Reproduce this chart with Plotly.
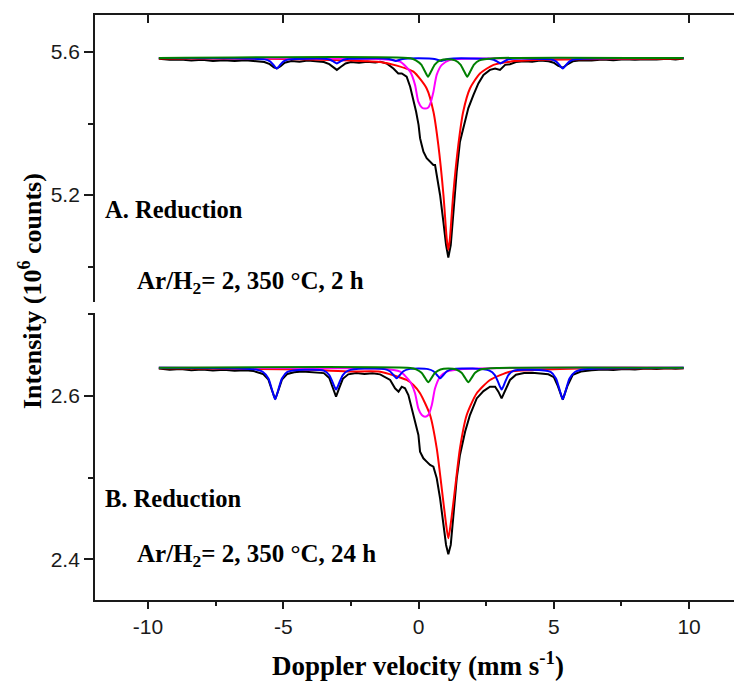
import plotly.graph_objects as go

# ---------------- data ----------------
# Panel A: Reduction Ar/H2 = 2, 350 C, 2 h
a_exp_v = [-9.6, -9.2, -8.8, -8.4, -8.0, -7.6, -7.2, -6.8, -6.4, -6.0, -5.7, -5.5, -5.35, -5.24, -5.1,
           -4.95, -4.7, -4.4, -4.1, -3.8, -3.5, -3.3, -3.15, -3.02, -2.88, -2.7, -2.5, -2.2, -1.9, -1.6,
           -1.42, -1.18, -0.93, -0.75, -0.62, -0.44, -0.31, -0.19, -0.09, 0.0, 0.055, 0.117, 0.18, 0.30,
           0.425, 0.548, 0.61, 0.70, 0.795, 0.918, 1.017, 1.10, 1.19, 1.29, 1.41, 1.53, 1.66, 1.84, 2.03,
           2.21, 2.40, 2.64, 2.83, 3.01, 3.2, 3.38, 3.6, 3.9, 4.2, 4.5, 4.8, 5.0, 5.15, 5.33, 5.5, 5.7,
           6.0, 6.4, 6.8, 7.2, 7.6, 8.0, 8.4, 8.8, 9.2, 9.5, 9.8]
a_exp_i = [5.581, 5.578, 5.579, 5.576, 5.578, 5.575, 5.577, 5.575, 5.577, 5.574, 5.572, 5.566, 5.557, 5.554, 5.560,
           5.570, 5.575, 5.573, 5.576, 5.574, 5.572, 5.566, 5.556, 5.550, 5.558, 5.568, 5.572, 5.570, 5.573, 5.571,
           5.573, 5.568, 5.554, 5.540, 5.540, 5.531, 5.503, 5.466, 5.433, 5.396, 5.359, 5.340, 5.321, 5.303,
           5.293, 5.284, 5.284, 5.247, 5.200, 5.125, 5.060, 5.025, 5.060, 5.153, 5.265, 5.349, 5.387, 5.443, 5.480,
           5.512, 5.536, 5.550, 5.554, 5.550, 5.564, 5.566, 5.572, 5.574, 5.573, 5.576, 5.574, 5.570, 5.562, 5.556, 5.565, 5.574,
           5.577, 5.576, 5.579, 5.577, 5.580, 5.578, 5.580, 5.579, 5.581, 5.579, 5.582]

a_red_v = [-9.6, -6, -4, -2.5, -1.42, -0.8, -0.19, 0.3, 0.55, 0.73, 0.92, 1.04, 1.10, 1.16, 1.28, 1.47,
           1.65, 1.90, 2.27, 2.77, 3.38, 4.5, 6, 9.8]
a_red_i = [5.582, 5.581, 5.579, 5.576, 5.572, 5.562, 5.545, 5.498, 5.433, 5.340, 5.200, 5.079, 5.046, 5.079,
           5.200, 5.340, 5.433, 5.498, 5.540, 5.564, 5.573, 5.578, 5.580, 5.582]

a_mag_v = [-9.6, -3, -1.4, -0.68, -0.31, -0.13, -0.01, 0.12, 0.24, 0.36, 0.43, 0.55, 0.67, 0.86, 1.17, 2.27, 9.8]
a_mag_i = [5.583, 5.582, 5.580, 5.573, 5.545, 5.508, 5.461, 5.445, 5.442, 5.445, 5.455, 5.489, 5.536, 5.564,
           5.578, 5.582, 5.583]

a_grn_v = [-9.6, -0.3, -0.1, 0.1, 0.23, 0.35, 0.47, 0.6, 0.8, 1.07, 1.35, 1.55, 1.68, 1.80, 1.92, 2.05, 2.25, 2.8, 9.8]
a_grn_i = [5.583, 5.5825, 5.5768, 5.5648, 5.5466, 5.531, 5.5466, 5.5648, 5.5768, 5.580, 5.5768, 5.5648, 5.5466,
           5.531, 5.5466, 5.5648, 5.5768, 5.5825, 5.583]

a_blu_v = [-9.6, -5.69, -5.49, -5.36, -5.24, -5.12, -4.99, -4.79, -3.47, -3.27, -3.14, -3.02, -2.9, -2.77, -2.57,
           -1.29, -1.09, -0.96, -0.84, -0.72, -0.59, -0.39, 0.39, 0.59, 0.72, 0.84, 0.96, 1.09, 1.29,
           2.58, 2.78, 2.91, 3.03, 3.15, 3.28, 3.48, 4.88, 5.08, 5.21, 5.33, 5.45, 5.58, 5.78, 9.8]
a_blu_i = [5.583, 5.5794, 5.5738, 5.5637, 5.554, 5.5637, 5.5738, 5.5794, 5.5811, 5.5783, 5.573, 5.568, 5.573, 5.5783, 5.5811,
           5.582, 5.5805, 5.5777, 5.575, 5.5777, 5.5805, 5.582, 5.582, 5.5805, 5.5777, 5.575, 5.5777, 5.5805, 5.582,
           5.5811, 5.5783, 5.573, 5.568, 5.573, 5.5783, 5.5811, 5.5794, 5.5738, 5.5637, 5.554, 5.5637, 5.5738, 5.5794, 5.583]

# Panel B: Reduction Ar/H2 = 2, 350 C, 24 h
b_exp_v = [-9.6, -9.2, -8.8, -8.4, -8.0, -7.6, -7.2, -6.8, -6.4, -6.1, -5.75, -5.55, -5.42, -5.30, -5.18, -5.05,
           -4.85, -4.6, -4.3, -4.0, -3.7, -3.5, -3.3, -3.17, -3.05, -2.93, -2.8, -2.6, -2.3, -2.0, -1.7, -1.42,
           -1.20, -1.05, -0.87, -0.74, -0.62, -0.50, -0.376, -0.25, -0.129, -0.006, 0.055, 0.178, 0.30, 0.425,
           0.548, 0.672, 0.795, 0.918, 1.017, 1.10, 1.19, 1.29, 1.41, 1.53, 1.72, 1.90, 2.15, 2.40, 2.64, 2.83,
           2.95, 3.07, 3.2, 3.38, 3.6, 3.9, 4.2, 4.5, 4.8, 5.0, 5.15, 5.33, 5.5, 5.7, 6.0, 6.4, 6.8, 7.2, 7.6,
           8.0, 8.4, 8.8, 9.2, 9.5, 9.8]
b_exp_i = [2.6335, 2.6320, 2.6330, 2.6315, 2.6325, 2.6312, 2.6320, 2.6308, 2.6315, 2.6305, 2.6270, 2.6200, 2.6070,
           2.5960, 2.6070, 2.6200, 2.6270, 2.6290, 2.6300, 2.6295, 2.6290, 2.6280, 2.6220, 2.6100, 2.5992, 2.6100,
           2.6210, 2.6265, 2.6280, 2.6270, 2.6278, 2.6265, 2.6230, 2.6196, 2.6094, 2.6053, 2.6114, 2.6094, 2.6012,
           2.5849, 2.5686, 2.5522, 2.5318, 2.5237, 2.5196, 2.5155, 2.5135, 2.4992, 2.4747, 2.4420, 2.4176, 2.4062,
           2.4176, 2.4543, 2.4992, 2.5278, 2.5563, 2.5767, 2.5970, 2.6060, 2.6114, 2.6114, 2.6053, 2.5971, 2.6073,
           2.6196, 2.6260, 2.6280, 2.6285, 2.6278, 2.6265, 2.6230, 2.6120, 2.5955, 2.6120, 2.6260, 2.6300, 2.6315,
           2.6325, 2.6318, 2.6330, 2.6325, 2.6335, 2.6330, 2.6338, 2.6332, 2.6340]

b_red_v = [-9.6, -6, -4, -2.5, -1.42, -0.44, -0.19, 0.055, 0.425, 0.672, 0.857, 1.005, 1.10, 1.20, 1.35, 1.53,
           1.78, 2.15, 2.64, 3.38, 4.5, 6, 9.8]
b_red_i = [2.634, 2.633, 2.632, 2.630, 2.6298, 2.6196, 2.6135, 2.6033, 2.5767, 2.5359, 2.4870, 2.4461, 2.4257,
           2.4461, 2.4870, 2.5359, 2.5767, 2.6033, 2.6196, 2.6298, 2.632, 2.6335, 2.634]

b_mag_v = [-9.6, -3, -1.4, -0.68, -0.31, -0.13, -0.01, 0.12, 0.24, 0.36, 0.49, 0.61, 0.80, 1.04, 1.66, 9.8]
b_mag_i = [2.6347, 2.634, 2.6335, 2.6298, 2.6175, 2.6033, 2.5849, 2.5767, 2.5747, 2.5767, 2.5890, 2.6094, 2.6237,
           2.6298, 2.6331, 2.6347]

b_grn_v = [-9.6, -0.3, -0.09, 0.11, 0.24, 0.36, 0.48, 0.61, 0.81, 1.1, 1.39, 1.59, 1.72, 1.84, 1.96, 2.09, 2.29, 2.9, 9.8]
b_grn_i = [2.6347, 2.6343, 2.6325, 2.6284, 2.6221, 2.6167, 2.6221, 2.6284, 2.6325, 2.6335, 2.6325, 2.6284, 2.6221,
           2.6167, 2.6221, 2.6284, 2.6325, 2.6343, 2.6347]

b_blu_v = [-9.6, -6.1, -5.75, -5.55, -5.42, -5.30, -5.18, -5.05, -4.85, -4.2, -3.5, -3.3, -3.17, -3.05, -2.93, -2.8,
           -2.6, -2.0, -1.26, -1.06, -0.93, -0.81, -0.69, -0.56, -0.36, 0.0, 0.35, 0.55, 0.68, 0.80, 0.92, 1.05,
           1.25, 2.0, 2.62, 2.82, 2.95, 3.07, 3.19, 3.32, 3.52, 4.2, 4.88, 5.08, 5.21, 5.33, 5.45, 5.58, 5.78, 6.13, 9.8]
b_blu_i = [2.6347, 2.6328, 2.6294, 2.6215, 2.6080, 2.596, 2.6080, 2.6215, 2.6294, 2.632, 2.6310, 2.6256, 2.6163,
           2.608, 2.6163, 2.6256, 2.6310, 2.6335, 2.6329, 2.6303, 2.6257, 2.6217, 2.6257, 2.6303, 2.6329, 2.6335,
           2.6329, 2.6303, 2.6257, 2.6217, 2.6257, 2.6303, 2.6329, 2.6335, 2.6310, 2.6256, 2.6163, 2.608, 2.6163,
           2.6256, 2.6310, 2.632, 2.6294, 2.6215, 2.6080, 2.596, 2.6080, 2.6215, 2.6294, 2.6328, 2.6347]

x_ticks = [-10, -5, 0, 5, 10]
x_tick_text = ["-10", "-5", "0", "5", "10"]

# ---------------- figure ----------------
W, H = 734, 684
PLOT_L, PLOT_R, PLOT_T, PLOT_B = 95, 734, 15, 600   # window pixels
ML, MR, MT, MB = PLOT_L, W - PLOT_R, PLOT_T, H - PLOT_B
PW, PH = PLOT_R - PLOT_L, PLOT_B - PLOT_T


def pxx(px):
    return (px - PLOT_L) / PW


def pxy(py):
    return (PLOT_B - py) / PH


SANS = "Liberation Sans, Arial, sans-serif"
SERIF = "Liberation Serif, Times New Roman, serif"
AX = "#1a1a1a"

fig = go.Figure()

panels = [
    ("x", "y", a_exp_v, a_exp_i, a_red_v, a_red_i, a_mag_v, a_mag_i, a_blu_v, a_blu_i, a_grn_v, a_grn_i),
    ("x2", "y2", b_exp_v, b_exp_i, b_red_v, b_red_i, b_mag_v, b_mag_i, b_blu_v, b_blu_i, b_grn_v, b_grn_i),
]
for xa, ya, ev, ei, rv, ri, mv, mi, bv, bi, gv, gi in panels:
    fig.add_trace(go.Scatter(x=ev, y=ei, xaxis=xa, yaxis=ya, mode="lines",
                             line=dict(color="#000000", width=2)))
    fig.add_trace(go.Scatter(x=rv, y=ri, xaxis=xa, yaxis=ya, mode="lines",
                             line=dict(color="#ff0000", width=2, shape="spline", smoothing=0.6)))
    fig.add_trace(go.Scatter(x=mv, y=mi, xaxis=xa, yaxis=ya, mode="lines",
                             line=dict(color="#ff00ff", width=2, shape="spline", smoothing=0.6)))
    fig.add_trace(go.Scatter(x=bv, y=bi, xaxis=xa, yaxis=ya, mode="lines",
                             line=dict(color="#0000ff", width=2, shape="spline", smoothing=0.6)))
    fig.add_trace(go.Scatter(x=gv, y=gi, xaxis=xa, yaxis=ya, mode="lines",
                             line=dict(color="#008000", width=2, shape="spline", smoothing=0.6)))

xr = [-11.96, 11.66]
top_dom = [pxy(302), 1.0]
bot_dom = [0.0, pxy(313)]

fig.update_layout(
    width=W, height=H,
    margin=dict(l=ML, r=MR, t=MT, b=MB, autoexpand=False),
    paper_bgcolor="white", plot_bgcolor="white",
    showlegend=False,
    xaxis=dict(anchor="y", domain=[0, 1], range=xr, side="top",
               showline=True, linecolor=AX, linewidth=1.8,
               ticks="inside", ticklen=8, tickwidth=1.5, tickcolor=AX,
               tickvals=x_ticks, showticklabels=False,
               showgrid=False, zeroline=False),
    yaxis=dict(anchor="x", domain=top_dom, range=[4.9007, 5.7035],
               showline=True, linecolor=AX, linewidth=1.8,
               ticks="outside", ticklen=9, tickwidth=1.5, tickcolor=AX,
               tick0=5.2, dtick=0.4, tickformat=".1f",
               minor=dict(ticks="outside", ticklen=5, tickwidth=1.5, tickcolor=AX, tick0=5.0, dtick=0.4),
               tickfont=dict(family=SANS, size=21, color=AX),
               showgrid=False, zeroline=False),
    xaxis2=dict(anchor="y2", domain=[0, 1], range=xr, side="bottom",
                showline=True, linecolor=AX, linewidth=1.8,
                ticks="outside", ticklen=7, tickwidth=1.5, tickcolor=AX,
                tickvals=x_ticks, ticktext=x_tick_text,
                minor=dict(ticks="outside", ticklen=4, tickwidth=1.5, tickcolor=AX, tick0=-7.5, dtick=5),
                tickfont=dict(family=SANS, size=21, color=AX),
                showgrid=False, zeroline=False),
    yaxis2=dict(anchor="x2", domain=bot_dom, range=[2.3502, 2.7016],
                showline=True, linecolor=AX, linewidth=1.8,
                ticks="outside", ticklen=9, tickwidth=1.5, tickcolor=AX,
                tick0=2.4, dtick=0.2, tickformat=".1f",
                minor=dict(ticks="outside", ticklen=5, tickwidth=1.5, tickcolor=AX, tick0=2.5, dtick=0.2),
                tickfont=dict(family=SANS, size=21, color=AX),
                showgrid=False, zeroline=False),
)

annotations = [
    dict(text="<b>A. Reduction</b>", x=pxx(103), y=pxy(209), size=24.5),
    dict(text="<b>Ar/H<sub>2</sub>= 2, 350 °C, 2 h</b>", x=pxx(135), y=pxy(282), size=25),
    dict(text="<b>B. Reduction</b>", x=pxx(103), y=pxy(499), size=24.5),
    dict(text="<b>Ar/H<sub>2</sub>= 2, 350 °C, 24 h</b>", x=pxx(135), y=pxy(555), size=25),
]
for a in annotations:
    fig.add_annotation(xref="paper", yref="paper", xanchor="left", yanchor="middle",
                       showarrow=False, text=a["text"], x=a["x"], y=a["y"],
                       font=dict(family=SERIF, size=a["size"], color="#000000"))

fig.add_annotation(text="<b>Intensity (10<sup>6</sup> counts)</b>", xref="paper", yref="paper",
                   x=pxx(30), y=pxy(291), xanchor="center", yanchor="middle", textangle=-90,
                   showarrow=False, font=dict(family=SERIF, size=26, color="#000000"))
fig.add_annotation(text="<b>Doppler velocity (mm s<sup>-1</sup>)</b>", xref="paper", yref="paper",
                   x=pxx(418), y=pxy(664), xanchor="center", yanchor="middle",
                   showarrow=False, font=dict(family=SERIF, size=27, color="#000000"))

# remove the default page margin so the figure fills the 734x684 window exactly
fig.write_html(
    "out.html",
    config={"displayModeBar": False},
    post_script="document.body.style.margin='0';document.documentElement.style.overflow='hidden';"
                "document.body.style.overflow='hidden';",
)
